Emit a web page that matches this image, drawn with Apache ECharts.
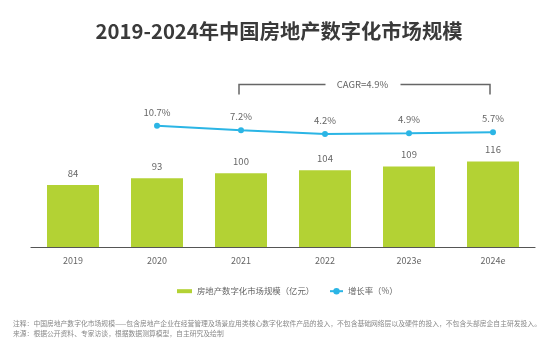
<!DOCTYPE html>
<html><head><meta charset="utf-8">
<script src="https://cdn.jsdelivr.net/npm/echarts@6/dist/echarts.min.js"></script>
<style>html,body{margin:0;padding:0;background:#fff}#c{width:558px;height:339px}</style>
</head><body><div id="c"></div>
<script>
const categories = ['2019','2020','2021','2022','2023e','2024e'];
const marketSize = [84, 93, 100, 104, 109, 116];
const growthRate = [null, 10.7, 7.2, 4.2, 4.9, 5.7];
const cagrText = 'CAGR=4.9%';
const titleText = '2019-2024年中国房地产数字化市场规模';
const legendBar = '房地产数字化市场规模（亿元）';
const legendLine = '增长率（%）';
const note1 = '注释：中国房地产数字化市场规模——包含房地产企业在经营管理及场景应用类核心数字化软件产品的投入，不包含基础网络层以及硬件的投入，不包含头部房企自主研发投入。';
const note2 = '来源：根据公开资料、专家访谈，根据数据测算模型，自主研究及绘制';

const FONT = '"Noto Sans CJK SC", "Noto Sans", sans-serif';
const chart = echarts.init(document.getElementById('c'));
const legendText = {fontFamily: FONT, fontSize: 8.4, color: '#666'};
const option = {
  backgroundColor: '#fff',
  animation: false,
  title: {
    text: titleText, left: 'center', top: 16,
    textStyle: {fontFamily: FONT, fontSize: 20.3, fontWeight: 'bold', color: '#3a3a3a'}
  },
  legend: [
    {
      top: 282, left: 172, itemWidth: 15, itemHeight: 10,
      textStyle: legendText,
      data: [{name: legendBar, icon: 'path://M0,3H15V7H0Z'}]
    },
    {
      top: 282, left: 324, itemWidth: 13, itemHeight: 8,
      textStyle: legendText,
      data: [{name: legendLine}]
    }
  ],
  grid: {left: 31, right: 23, top: 99.4, bottom: 92},
  xAxis: {
    type: 'category', data: categories,
    axisLine: {lineStyle: {color: '#555', width: 1.2}},
    axisTick: {show: false},
    axisLabel: {fontFamily: FONT, fontSize: 9, color: '#666', margin: 9}
  },
  yAxis: [
    {type: 'value', min: 0, max: 200, show: false, splitLine: {show: false}},
    {type: 'value', min: -84, max: 31.3, show: false, splitLine: {show: false}}
  ],
  series: [
    {
      name: legendBar, type: 'bar', data: marketSize, barWidth: 52,
      itemStyle: {color: '#b3d234'},
      label: {show: true, position: 'top', distance: 7, fontFamily: FONT, fontSize: 9.5, color: '#666'}
    },
    {
      name: legendLine, type: 'line', yAxisIndex: 1, data: growthRate,
      symbol: 'circle', symbolSize: 6,
      lineStyle: {color: '#2bb5e5', width: 2},
      itemStyle: {color: '#2bb5e5'},
      label: {show: true, position: 'top', distance: 6, fontFamily: FONT, fontSize: 9.5, color: '#666',
        formatter: p => p.value + '%'}
    }
  ]
};
chart.setOption(option);

const xL = chart.convertToPixel({xAxisIndex: 0}, categories[2]) - 2;
const xR = chart.convertToPixel({xAxisIndex: 0}, categories[5]) - 3;
const yTop = 84.5, yBot = 94.5;
const mid = (xL + xR) / 2 - 2;
chart.setOption({
  graphic: [
    {type: 'polyline', shape: {points: [[xL, yBot], [xL, yTop], [mid - 37, yTop]]}, style: {stroke: '#666', lineWidth: 1.5, fill: null}},
    {type: 'polyline', shape: {points: [[mid + 38, yTop], [xR, yTop], [xR, yBot]]}, style: {stroke: '#666', lineWidth: 1.5, fill: null}},
    {type: 'text', x: mid, y: yTop, style: {text: cagrText, align: 'center', verticalAlign: 'middle', fontFamily: FONT, fontSize: 9.5, fill: '#666'}},
    {type: 'text', x: 13, y: 323, style: {text: note1, verticalAlign: 'middle', fontFamily: FONT, fontSize: 6.8, fill: '#888'}},
    {type: 'text', x: 13, y: 333, style: {text: note2, verticalAlign: 'middle', fontFamily: FONT, fontSize: 6.8, fill: '#888'}}
  ]
});
</script></body></html>
